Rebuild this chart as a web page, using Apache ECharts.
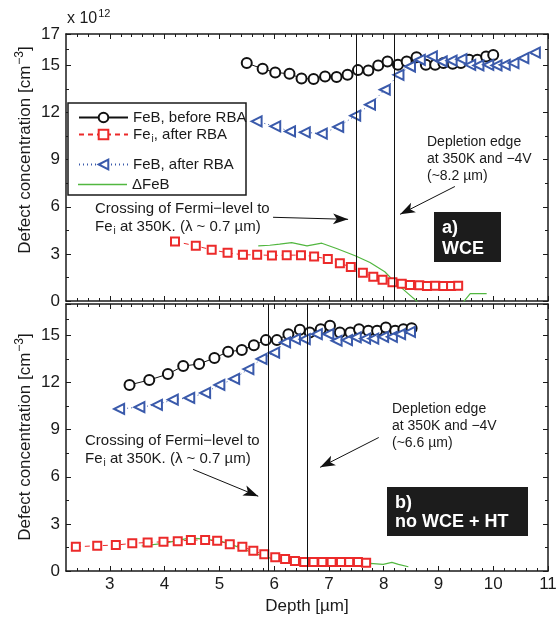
<!DOCTYPE html>
<html><head><meta charset="utf-8">
<script src="https://cdn.jsdelivr.net/npm/echarts@6/dist/echarts.min.js"></script>
<style>html,body{margin:0;padding:0;background:#fff}#c{width:557px;height:620px}</style>
</head><body><div id="c"></div>
<script>
const FONT = "'Liberation Sans', Arial, Helvetica, sans-serif";

// ---------- data: panel a) WCE ----------
const topFeBBeforeX = [5.5, 5.79, 6.02, 6.28, 6.5, 6.72, 6.93, 7.14, 7.34, 7.53, 7.72, 7.9, 8.07, 8.26, 8.42, 8.6, 8.77, 8.94, 9.09, 9.26, 9.41, 9.56, 9.71, 9.87, 10.0];
const topFeBBeforeY = [15.15, 14.78, 14.55, 14.47, 14.17, 14.13, 14.3, 14.26, 14.4, 14.7, 14.68, 14.99, 15.25, 15.04, 15.25, 15.52, 15.04, 15.04, 15.15, 15.1, 15.15, 15.36, 15.36, 15.57, 15.67];
const topFeBAfterX = [5.68, 6.02, 6.29, 6.56, 6.87, 7.17, 7.48, 7.75, 8.02, 8.27, 8.48, 8.66, 8.88, 9.06, 9.24, 9.42, 9.58, 9.73, 9.91, 10.06, 10.21, 10.37, 10.55, 10.76];
const topFeBAfterY = [11.44, 11.12, 10.8, 10.74, 10.66, 11.08, 11.8, 12.5, 13.45, 14.4, 14.93, 15.36, 15.57, 15.25, 15.3, 15.4, 15.04, 15.0, 15.04, 15.0, 15.04, 15.15, 15.46, 15.82];
const topFeiX = [4.19, 4.57, 4.86, 5.15, 5.43, 5.69, 5.96, 6.23, 6.49, 6.73, 6.98, 7.2, 7.4, 7.62, 7.81, 7.98, 8.16, 8.33, 8.48, 8.65, 8.79, 8.94, 9.09, 9.23, 9.36];
const topFeiY = [3.79, 3.51, 3.26, 3.07, 2.94, 2.94, 2.9, 2.92, 2.92, 2.84, 2.67, 2.41, 2.16, 1.8, 1.54, 1.35, 1.19, 1.1, 1.02, 1.0, 0.95, 0.97, 0.95, 0.95, 0.97];
const topDeltaX = [5.71, 5.92, 6.1, 6.32, 6.6, 6.87, 7.14, 7.48, 7.75, 8.02, 8.21, 8.42, 8.7, 9.0, 9.4, 9.58, 9.88];
const topDeltaY = [3.51, 3.55, 3.62, 3.72, 3.51, 3.68, 3.34, 2.88, 2.45, 1.86, 1.19, 0.55, -0.3, -0.6, -0.3, 0.47, 0.47];

// ---------- data: panel b) no WCE + HT ----------
const botFeBBeforeX = [3.36, 3.72, 4.06, 4.34, 4.63, 4.91, 5.16, 5.41, 5.63, 5.85, 6.05, 6.26, 6.47, 6.65, 6.85, 7.02, 7.2, 7.39, 7.55, 7.72, 7.88, 8.04, 8.21, 8.36, 8.51];
const botFeBBeforeY = [11.85, 12.16, 12.54, 13.05, 13.18, 13.56, 13.96, 14.07, 14.38, 14.7, 14.7, 15.08, 15.36, 15.18, 15.4, 15.61, 15.18, 15.18, 15.4, 15.29, 15.29, 15.5, 15.29, 15.4, 15.46];
const botFeBAfterX = [3.17, 3.54, 3.86, 4.15, 4.45, 4.74, 5.0, 5.27, 5.53, 5.77, 6.0, 6.2, 6.38, 6.56, 6.78, 6.99, 7.14, 7.33, 7.49, 7.66, 7.81, 7.99, 8.15, 8.3, 8.48];
const botFeBAfterY = [10.32, 10.43, 10.58, 10.91, 11.02, 11.34, 11.85, 12.23, 12.86, 13.5, 13.9, 14.55, 14.76, 14.76, 15.08, 15.08, 14.66, 14.7, 14.87, 14.8, 14.8, 14.91, 14.91, 15.08, 15.23];
const botFeiX = [2.38, 2.77, 3.11, 3.41, 3.69, 3.98, 4.24, 4.48, 4.74, 4.96, 5.19, 5.42, 5.62, 5.82, 6.02, 6.2, 6.38, 6.55, 6.72, 6.88, 7.05, 7.22, 7.37, 7.53, 7.68];
const botFeiY = [1.54, 1.61, 1.65, 1.76, 1.82, 1.86, 1.9, 1.97, 1.97, 1.92, 1.71, 1.54, 1.29, 1.06, 0.87, 0.76, 0.63, 0.57, 0.57, 0.57, 0.57, 0.57, 0.57, 0.57, 0.53];
const botDeltaX = [3.58, 3.98, 4.47, 4.71, 5.01, 5.25, 5.53, 5.8, 6.11, 6.35, 6.72, 7.14, 7.51, 7.75, 7.99, 8.15, 8.27, 8.45];
const botDeltaY = [1.59, 1.76, 2.11, 2.03, 1.92, 1.65, 1.27, 0.95, 0.65, 0.44, 0.42, 0.49, 0.38, 0.49, 0.42, 0.55, 0.42, 0.27];

// vertical guide lines (depth, µm)
const topVLines = [7.5, 8.2];
const botVLines = [5.9, 6.6];
// annotation arrows [tailX, tailY, headX, headY] in data units
const topArrows = [[5.98, 5.33, 7.35, 5.2], [9.30, 7.29, 8.30, 5.52]];
const botArrows = [[4.52, 6.47, 5.71, 4.76], [7.91, 8.5, 6.84, 6.6]];

// ---------- ticks ----------
const xTickLabels = [3, 4, 5, 6, 7, 8, 9, 10, 11];
const yTickLabelsTop = [0, 3, 6, 9, 12, 15, 17];
const yTickLabelsBot = [0, 3, 6, 9, 12, 15];
const yMajorTicks = [0, 3, 6, 9, 12, 15, 17];
const yMinorTicks = [1.5, 4.5, 7.5, 10.5, 13.5, 16];
const xMinorTicks = [];
for (let k = 12; k <= 54; k++) { if (k % 5 !== 0) xMinorTicks.push(k / 5); }

const zip = (xs, ys) => xs.map((x, i) => [x, ys[i]]);
const AX = '#1a1a1a';

function xAx(grid, pos, ticks, len, showLine, labels) {
  return {
    type: 'value', gridIndex: grid, position: pos, min: 2.2, max: 11,
    axisLine: { show: showLine, onZero: false, lineStyle: { color: AX, width: 1.5 } },
    axisTick: { show: true, inside: true, length: len, customValues: ticks, lineStyle: { color: AX, width: 1 } },
    axisLabel: { show: !!labels, customValues: labels || ticks, fontSize: 17, color: '#1a1a1a', fontFamily: FONT, margin: 5 },
    splitLine: { show: false }
  };
}
function yAx(grid, pos, ticks, len, showLine, labels) {
  return {
    type: 'value', gridIndex: grid, position: pos, min: 0, max: 17,
    axisLine: { show: showLine, onZero: false, lineStyle: { color: AX, width: 1.5 } },
    axisTick: { show: true, inside: true, length: len, customValues: ticks, lineStyle: { color: AX, width: 1 } },
    axisLabel: { show: !!labels, customValues: labels || ticks, fontSize: 17, color: '#1a1a1a', fontFamily: FONT, margin: 6 },
    splitLine: { show: false }
  };
}

const RED = '#ec2a2a', BLUE = '#3a5aab', GREEN = '#52b740', BLACK = '#111';

function panelSeries(ax, d, vlines, arrows) {
  const ml = [];
  vlines.forEach(v => ml.push({ xAxis: v }));
  arrows.forEach(a => ml.push([
    { coord: [a[0], a[1]], symbol: 'none' },
    { coord: [a[2], a[3]], symbol: 'arrow', symbolSize: [8, 15] }
  ]));
  return [
    { name: 'FeB, before RBA', type: 'line', xAxisIndex: ax, yAxisIndex: ax, data: d[0],
      symbol: 'emptyCircle', symbolSize: 10, lineStyle: { color: BLACK, width: 1 },
      itemStyle: { color: BLACK, borderWidth: 1.1 }, z: 3 },
    { name: 'Fe_i, after RBA', type: 'line', xAxisIndex: ax, yAxisIndex: ax, data: d[1],
      symbol: 'emptyRect', symbolSize: 8, lineStyle: { color: RED, width: 1, type: [5, 4] },
      itemStyle: { color: RED, borderWidth: 1.1 }, z: 3 },
    { name: 'FeB, after RBA', type: 'line', xAxisIndex: ax, yAxisIndex: ax, data: d[2],
      symbol: 'emptyTriangle', symbolRotate: 90, symbolSize: 10, lineStyle: { color: BLUE, width: 1, type: [1, 3] },
      itemStyle: { color: BLUE, borderWidth: 1.1 }, z: 3 },
    { name: 'ΔFeB', type: 'line', xAxisIndex: ax, yAxisIndex: ax, data: d[3],
      symbol: 'none', lineStyle: { color: GREEN, width: 1.2 }, itemStyle: { color: GREEN }, z: 2,
      markLine: { silent: true, symbol: ['none', 'none'], label: { show: false },
        lineStyle: { color: BLACK, width: 1, type: 'solid' }, emphasis: { disabled: true }, data: ml } }
  ];
}

const legBase = { orient: 'horizontal', left: 78, itemWidth: 49, itemHeight: 12, itemGap: 0, padding: 0,
  selectedMode: false, textStyle: { fontSize: 15, fontFamily: FONT, color: '#1a1a1a' } };

const richBase = (size, lh, color, bold) => ({
  a: { fontSize: size, lineHeight: lh, fontFamily: FONT, fill: color, fontWeight: bold ? 'bold' : 'normal' },
  s: { fontSize: Math.round(size * 0.68), lineHeight: 10, padding: [9, 0, 0, 1], fontFamily: FONT, fill: color },
  u: { fontSize: Math.round(size * 0.7), lineHeight: 12, padding: [0, 0, 10, 1], fontFamily: FONT, fill: color }
});
function txt(x, y, text, size, lh, color, extra) {
  return Object.assign({ type: 'text', x: x, y: y, z: 10,
    style: { text: text, fontSize: size, lineHeight: lh, fontFamily: FONT, fill: color,
      rich: richBase(size, lh, color, false), verticalAlign: 'top', align: 'left' } }, extra || {});
}

const option = {
  animation: false,
  backgroundColor: '#fff',
  grid: [
    { left: 66, top: 34, width: 482, height: 267, outerBoundsMode: 'none' },
    { left: 66, top: 304, width: 482, height: 267, outerBoundsMode: 'none' }
  ],
  xAxis: [
    xAx(0, 'bottom', xTickLabels, 5, true, null), xAx(0, 'bottom', xMinorTicks, 3, false, null),
    xAx(0, 'top', xTickLabels, 5, true, null), xAx(0, 'top', xMinorTicks, 3, false, null),
    xAx(1, 'bottom', xTickLabels, 5, true, xTickLabels), xAx(1, 'bottom', xMinorTicks, 3, false, null),
    xAx(1, 'top', xTickLabels, 5, true, null), xAx(1, 'top', xMinorTicks, 3, false, null)
  ],
  yAxis: [
    yAx(0, 'left', yMajorTicks, 5, true, yTickLabelsTop), yAx(0, 'left', yMinorTicks, 3, false, null),
    yAx(0, 'right', yMajorTicks, 5, true, null), yAx(0, 'right', yMinorTicks, 3, false, null),
    yAx(1, 'left', yMajorTicks, 5, true, yTickLabelsBot), yAx(1, 'left', yMinorTicks, 3, false, null),
    yAx(1, 'right', yMajorTicks, 5, true, null), yAx(1, 'right', yMinorTicks, 3, false, null)
  ],
  legend: [
    Object.assign({}, legBase, { data: ['FeB, before RBA'], top: 110 }),
    Object.assign({}, legBase, { data: ['Fe_i, after RBA'], top: 127,
      formatter: () => '{n|Fe}{s|i}{n|, after RBA}',
      textStyle: { fontSize: 15, fontFamily: FONT, color: '#1a1a1a',
        rich: { n: { fontSize: 15, fontFamily: FONT, color: '#1a1a1a' },
                s: { fontSize: 10, fontFamily: FONT, color: '#1a1a1a', padding: [9, 0, 0, 1] } } } }),
    Object.assign({}, legBase, { data: ['FeB, after RBA'], top: 157 }),
    Object.assign({}, legBase, { data: [{ name: 'ΔFeB', icon: 'rect' }], top: 177, itemHeight: 1.3 })
  ],
  graphic: [
    { type: 'rect', z: 1, shape: { x: 68, y: 103, width: 178, height: 92 },
      style: { fill: '#fff', stroke: '#1a1a1a', lineWidth: 1.5 } },
    txt(67, 10, '{a|x 10}{u|12}', 16, 18, '#1a1a1a'),
    txt(25, 150, '{a|Defect concentration [cm}{u|−3}{a|]}', 17, 18, '#1a1a1a',
      { rotation: Math.PI / 2 }),
    txt(25, 437, '{a|Defect concentration [cm}{u|−3}{a|]}', 17, 18, '#1a1a1a',
      { rotation: Math.PI / 2 }),
    txt(307, 597, 'Depth [µm]', 17, 18, '#1a1a1a'),
    txt(95, 200, '{a|Crossing of Fermi−level to}\n{a|Fe}{s|i}{a| at 350K. (λ ~ 0.7 µm)}', 15, 18, '#1a1a1a'),
    txt(427, 134, 'Depletion edge\nat 350K and −4V\n(~8.2 µm)', 14, 17, '#1a1a1a'),
    txt(85, 432, '{a|Crossing of Fermi−level to}\n{a|Fe}{s|i}{a| at 350K. (λ ~ 0.7 µm)}', 15, 18, '#1a1a1a'),
    txt(392, 401, 'Depletion edge\nat 350K and −4V\n(~6.6 µm)', 14, 17, '#1a1a1a'),
    { type: 'rect', z: 9, shape: { x: 434, y: 212, width: 67, height: 50 }, style: { fill: '#1c1c1c' } },
    { type: 'text', z: 10, x: 442, y: 218,
      style: { text: 'a)\nWCE', fontSize: 18, fontWeight: 'bold', lineHeight: 21, fontFamily: FONT, fill: '#fff', verticalAlign: 'top' } },
    { type: 'rect', z: 9, shape: { x: 387, y: 487, width: 141, height: 49 }, style: { fill: '#1c1c1c' } },
    { type: 'text', z: 10, x: 395, y: 494,
      style: { text: 'b)\nno WCE + HT', fontSize: 18, fontWeight: 'bold', lineHeight: 18.5, fontFamily: FONT, fill: '#fff', verticalAlign: 'top' } }
  ],
  series: [].concat(
    panelSeries(0, [zip(topFeBBeforeX, topFeBBeforeY), zip(topFeiX, topFeiY), zip(topFeBAfterX, topFeBAfterY), zip(topDeltaX, topDeltaY)], topVLines, topArrows),
    panelSeries(4, [zip(botFeBBeforeX, botFeBBeforeY), zip(botFeiX, botFeiY), zip(botFeBAfterX, botFeBAfterY), zip(botDeltaX, botDeltaY)], botVLines, botArrows)
  )
};
// center the rotated titles and the x title
option.graphic[2].style.align = 'center'; option.graphic[2].style.verticalAlign = 'middle';
option.graphic[3].style.align = 'center'; option.graphic[3].style.verticalAlign = 'middle';
option.graphic[4].style.align = 'center'; option.graphic[4].y = 606; option.graphic[4].style.verticalAlign = 'middle';

const chart = echarts.init(document.getElementById('c'), null, { renderer: 'canvas' });
chart.setOption(option);
</script></body></html>
